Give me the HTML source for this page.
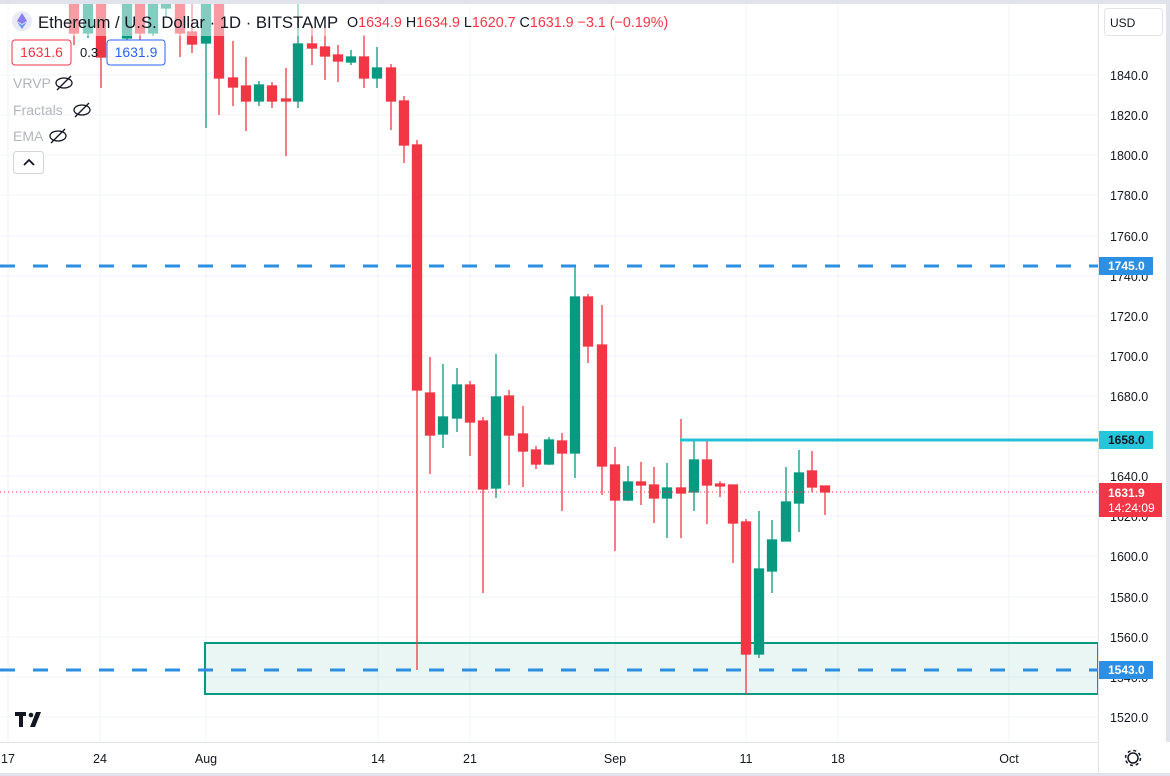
<!DOCTYPE html>
<html><head><meta charset="utf-8"><style>
body{margin:0;width:1170px;height:776px;overflow:hidden;background:#fff;font-family:"Liberation Sans",sans-serif}
svg{display:block}
</style></head><body>
<svg width="1170" height="776" xmlns="http://www.w3.org/2000/svg" font-family="Liberation Sans, sans-serif">
<rect width="1170" height="776" fill="#fff"/>
<g stroke="#f0f3fa" stroke-width="1">
<line x1="0" x2="1098" y1="75" y2="75"/><line x1="0" x2="1098" y1="115" y2="115"/><line x1="0" x2="1098" y1="155" y2="155"/><line x1="0" x2="1098" y1="195" y2="195"/><line x1="0" x2="1098" y1="236" y2="236"/><line x1="0" x2="1098" y1="276" y2="276"/><line x1="0" x2="1098" y1="316" y2="316"/><line x1="0" x2="1098" y1="356" y2="356"/><line x1="0" x2="1098" y1="396" y2="396"/><line x1="0" x2="1098" y1="436" y2="436"/><line x1="0" x2="1098" y1="476" y2="476"/><line x1="0" x2="1098" y1="516" y2="516"/><line x1="0" x2="1098" y1="556" y2="556"/><line x1="0" x2="1098" y1="597" y2="597"/><line x1="0" x2="1098" y1="637" y2="637"/><line x1="0" x2="1098" y1="677" y2="677"/><line x1="0" x2="1098" y1="717" y2="717"/>
<line x1="8" x2="8" y1="0" y2="742"/><line x1="100" x2="100" y1="0" y2="742"/><line x1="206" x2="206" y1="0" y2="742"/><line x1="378" x2="378" y1="0" y2="742"/><line x1="470" x2="470" y1="0" y2="742"/><line x1="615" x2="615" y1="0" y2="742"/><line x1="746" x2="746" y1="0" y2="742"/><line x1="838" x2="838" y1="0" y2="742"/><line x1="1009" x2="1009" y1="0" y2="742"/>
</g>
<rect x="205" y="643" width="893" height="51" fill="rgba(8,153,129,0.09)" stroke="#089981" stroke-width="2"/>
<g stroke-width="1.3">
<g stroke="#f23645" fill="#f23645">
<line x1="74" x2="74" y1="0" y2="45"/><rect x="69.5" y="3" width="9" height="30"/>
<line x1="101" x2="101" y1="0" y2="88"/><rect x="96.5" y="3" width="9" height="54"/>
<line x1="140" x2="140" y1="0" y2="40"/><rect x="135.5" y="3" width="9" height="30"/>
<line x1="180" x2="180" y1="0" y2="57"/><rect x="175.5" y="3" width="9" height="30"/>
<line x1="192" x2="192" y1="0" y2="53"/><rect x="187.5" y="32" width="9" height="12"/>
<line x1="219" x2="219" y1="0" y2="115"/><rect x="214.5" y="3" width="9" height="75"/>
<line x1="233" x2="233" y1="41" y2="106"/><rect x="228.5" y="78" width="9" height="9"/>
<line x1="246" x2="246" y1="57" y2="131"/><rect x="241.5" y="86" width="9" height="15"/>
<line x1="272" x2="272" y1="82" y2="108"/><rect x="267.5" y="86" width="9" height="15"/>
<line x1="286" x2="286" y1="68" y2="156"/><rect x="281.5" y="99" width="9" height="2"/>
<line x1="312" x2="312" y1="27" y2="65"/><rect x="307.5" y="44" width="9" height="4"/>
<line x1="325" x2="325" y1="27" y2="80"/><rect x="320.5" y="47" width="9" height="9"/>
<line x1="338" x2="338" y1="45" y2="82"/><rect x="333.5" y="55" width="9" height="6"/>
<line x1="364" x2="364" y1="35" y2="88"/><rect x="359.5" y="57" width="9" height="21"/>
<line x1="391" x2="391" y1="64" y2="130"/><rect x="386.5" y="68" width="9" height="33"/>
<line x1="404" x2="404" y1="96" y2="163"/><rect x="399.5" y="101" width="9" height="44"/>
<line x1="417" x2="417" y1="140" y2="670"/><rect x="412.5" y="145" width="9" height="245"/>
<line x1="430" x2="430" y1="357" y2="474"/><rect x="425.5" y="393" width="9" height="42"/>
<line x1="470" x2="470" y1="381" y2="456"/><rect x="465.5" y="385" width="9" height="37"/>
<line x1="483" x2="483" y1="417" y2="593"/><rect x="478.5" y="421" width="9" height="68"/>
<line x1="509" x2="509" y1="390" y2="485"/><rect x="504.5" y="396" width="9" height="39"/>
<line x1="523" x2="523" y1="406" y2="487"/><rect x="518.5" y="434" width="9" height="17"/>
<line x1="536" x2="536" y1="446" y2="469"/><rect x="531.5" y="450" width="9" height="14"/>
<line x1="562" x2="562" y1="433" y2="511"/><rect x="557.5" y="441" width="9" height="12"/>
<line x1="588" x2="588" y1="294" y2="363"/><rect x="583.5" y="297" width="9" height="49"/>
<line x1="602" x2="602" y1="305" y2="495"/><rect x="597.5" y="345" width="9" height="121"/>
<line x1="615" x2="615" y1="447" y2="551"/><rect x="610.5" y="465" width="9" height="35"/>
<line x1="641" x2="641" y1="462" y2="505"/><rect x="636.5" y="482" width="9" height="3"/>
<line x1="654" x2="654" y1="467" y2="523"/><rect x="649.5" y="485" width="9" height="13"/>
<line x1="681" x2="681" y1="419" y2="538"/><rect x="676.5" y="488" width="9" height="5"/>
<line x1="707" x2="707" y1="440" y2="524"/><rect x="702.5" y="460" width="9" height="25"/>
<line x1="720" x2="720" y1="481" y2="497"/><rect x="715.5" y="484" width="9" height="2"/>
<line x1="733" x2="733" y1="485" y2="563"/><rect x="728.5" y="485" width="9" height="38"/>
<line x1="746" x2="746" y1="519" y2="694"/><rect x="741.5" y="522" width="9" height="132"/>
<line x1="812" x2="812" y1="451" y2="492"/><rect x="807.5" y="471" width="9" height="16"/>
<line x1="825" x2="825" y1="486" y2="515"/><rect x="820.5" y="486" width="9" height="6"/>
</g>
<g stroke="#089981" fill="#089981">
<line x1="88" x2="88" y1="0" y2="38"/><rect x="83.5" y="3" width="9" height="30"/>
<line x1="127" x2="127" y1="0" y2="42"/><rect x="122.5" y="3" width="9" height="35"/>
<line x1="153" x2="153" y1="0" y2="36"/><rect x="148.5" y="3" width="9" height="30"/>
<line x1="166" x2="166" y1="0" y2="17"/><rect x="161.5" y="3" width="9" height="5"/>
<line x1="206" x2="206" y1="0" y2="128"/><rect x="201.5" y="3" width="9" height="40"/>
<line x1="259" x2="259" y1="81" y2="106"/><rect x="254.5" y="85" width="9" height="16"/>
<line x1="298" x2="298" y1="0" y2="108"/><rect x="293.5" y="44" width="9" height="57"/>
<line x1="351" x2="351" y1="50" y2="65"/><rect x="346.5" y="57" width="9" height="5"/>
<line x1="377" x2="377" y1="47" y2="88"/><rect x="372.5" y="68" width="9" height="10"/>
<line x1="443" x2="443" y1="364" y2="448"/><rect x="438.5" y="417" width="9" height="17"/>
<line x1="457" x2="457" y1="368" y2="432"/><rect x="452.5" y="385" width="9" height="33"/>
<line x1="496" x2="496" y1="354" y2="498"/><rect x="491.5" y="397" width="9" height="91"/>
<line x1="549" x2="549" y1="437" y2="465"/><rect x="544.5" y="440" width="9" height="24"/>
<line x1="575" x2="575" y1="266" y2="478"/><rect x="570.5" y="297" width="9" height="156"/>
<line x1="628" x2="628" y1="466" y2="501"/><rect x="623.5" y="482" width="9" height="18"/>
<line x1="667" x2="667" y1="463" y2="538"/><rect x="662.5" y="488" width="9" height="10"/>
<line x1="694" x2="694" y1="440" y2="511"/><rect x="689.5" y="460" width="9" height="32"/>
<line x1="759" x2="759" y1="511" y2="658"/><rect x="754.5" y="569" width="9" height="85"/>
<line x1="772" x2="772" y1="520" y2="593"/><rect x="767.5" y="540" width="9" height="31"/>
<line x1="786" x2="786" y1="467" y2="541"/><rect x="781.5" y="502" width="9" height="39"/>
<line x1="799" x2="799" y1="450" y2="532"/><rect x="794.5" y="473" width="9" height="30"/>
</g>
</g>
<line x1="0" x2="1098" y1="266" y2="266" stroke="#2b8fe3" stroke-width="3" stroke-dasharray="15,18"/>
<line x1="0" x2="1098" y1="670" y2="670" stroke="#2b8fe3" stroke-width="3" stroke-dasharray="15,18"/>
<line x1="680" x2="1098" y1="440" y2="440" stroke="#26c0d6" stroke-width="3"/>
<line x1="0" x2="1098" y1="492" y2="492" stroke="#f23645" stroke-width="1" stroke-dasharray="1,3"/>
<rect x="0" y="0" width="690" height="36" fill="rgba(255,255,255,0.5)"/>
<circle cx="22" cy="21" r="10" fill="#e8eaf6"/>
<polygon points="22,13 27,21 22,24 17,21" fill="#8a7ef0"/><polygon points="22,25 27,22 22,29 17,22" fill="#6b9af0"/>
<text x="38" y="28" font-size="16.7" fill="#131722">Ethereum / U.S. Dollar · 1D · BITSTAMP</text>
<text x="347" y="27" font-size="14.3" fill="#131722">O<tspan fill="#f23645">1634.9</tspan> H<tspan fill="#f23645">1634.9</tspan> L<tspan fill="#f23645">1620.7</tspan> C<tspan fill="#f23645">1631.9</tspan> <tspan fill="#f23645">−3.1 (−0.19%)</tspan></text>
<rect x="12" y="40" width="59" height="25" rx="3" fill="#fff" stroke="#f23645"/>
<text x="41.5" y="57" font-size="14" fill="#f23645" text-anchor="middle">1631.6</text>
<text x="80" y="57" font-size="13" fill="#131722">0.3</text>
<rect x="107" y="40" width="58" height="25" rx="3" fill="#fff" stroke="#2962ff"/>
<text x="136" y="57" font-size="14" fill="#2962ff" text-anchor="middle">1631.9</text>
<text x="13" y="88" font-size="14" fill="#b2b5be">VRVP</text>
<text x="13" y="115" font-size="14" fill="#b2b5be">Fractals</text>
<text x="13" y="141" font-size="14" fill="#b2b5be">EMA</text>
<g stroke="#131722" stroke-width="1.3" fill="none">
<ellipse cx="64" cy="83" rx="8" ry="5"/><line x1="57" y1="90" x2="71" y2="76"/>
<ellipse cx="82" cy="110" rx="8" ry="5"/><line x1="75" y1="117" x2="89" y2="103"/>
<ellipse cx="58" cy="136" rx="8" ry="5"/><line x1="51" y1="143" x2="65" y2="129"/>
</g>
<rect x="13.5" y="151.5" width="30" height="22" rx="3" fill="#fff" stroke="#d1d4dc"/>
<polyline points="24,165 29,160 34,165" fill="none" stroke="#131722" stroke-width="1.8"/>
<g fill="#131722"><rect x="15" y="712" width="11" height="4"/><rect x="19" y="712" width="4" height="15"/><circle cx="31" cy="715" r="2.3"/><polygon points="36,712 41,712 35,727 30,727"/></g>
<rect x="1098" y="0" width="72" height="776" fill="#fff"/>
<rect x="1166" y="0" width="4" height="776" fill="#e0e3eb"/>
<rect x="0" y="0" width="1170" height="4" fill="#e0e3eb"/>
<rect x="1104.5" y="8.5" width="58" height="27" rx="3" fill="#fff" stroke="#e0e3eb"/>
<text x="1110" y="27" font-size="12" fill="#131722">USD</text>
<g font-size="12.5" fill="#131722">
<text x="1110" y="80">1840.0</text><text x="1110" y="120">1820.0</text><text x="1110" y="160">1800.0</text><text x="1110" y="200">1780.0</text><text x="1110" y="241">1760.0</text><text x="1110" y="281">1740.0</text><text x="1110" y="321">1720.0</text><text x="1110" y="361">1700.0</text><text x="1110" y="401">1680.0</text><text x="1110" y="441">1660.0</text><text x="1110" y="481">1640.0</text><text x="1110" y="521">1620.0</text><text x="1110" y="561">1600.0</text><text x="1110" y="602">1580.0</text><text x="1110" y="642">1560.0</text><text x="1110" y="682">1540.0</text><text x="1110" y="722">1520.0</text>
</g>
<rect x="1098" y="257" width="55" height="18" fill="#2b8fe3"/><text x="1108" y="270" font-size="12" font-weight="bold" fill="#fff">1745.0</text>
<rect x="1098" y="431" width="55" height="18" fill="#26c6da"/><text x="1108" y="444" font-size="12" font-weight="bold" fill="#131722">1658.0</text>
<rect x="1098" y="661" width="55" height="18" fill="#2b8fe3"/><text x="1108" y="674" font-size="12" font-weight="bold" fill="#fff">1543.0</text>
<rect x="1098" y="483" width="64" height="34" fill="#f23645"/><text x="1108" y="497" font-size="12" font-weight="bold" fill="#fff">1631.9</text><text x="1108" y="512" font-size="12" fill="#fff">14:24:09</text>
<rect x="0" y="742" width="1170" height="34" fill="#fff"/>
<line x1="0" x2="1098" y1="742.5" y2="742.5" stroke="#e0e3eb"/>
<line x1="1098.5" x2="1098.5" y1="0" y2="776" stroke="#e0e3eb"/>
<rect x="0" y="773" width="1170" height="3" fill="#e0e3eb"/>
<g font-size="12.5" fill="#131722" text-anchor="middle">
<text x="8" y="763">17</text><text x="100" y="763">24</text><text x="206" y="763">Aug</text><text x="378" y="763">14</text><text x="470" y="763">21</text><text x="615" y="763">Sep</text><text x="746" y="763">11</text><text x="838" y="763">18</text><text x="1009" y="763">Oct</text>
</g>
<circle cx="1133" cy="758" r="5" fill="none" stroke="#131722" stroke-width="1.5"/><circle cx="1133" cy="758" r="7.5" fill="none" stroke="#131722" stroke-width="1.5" stroke-dasharray="3,2.9"/>
</svg>
</body></html>
